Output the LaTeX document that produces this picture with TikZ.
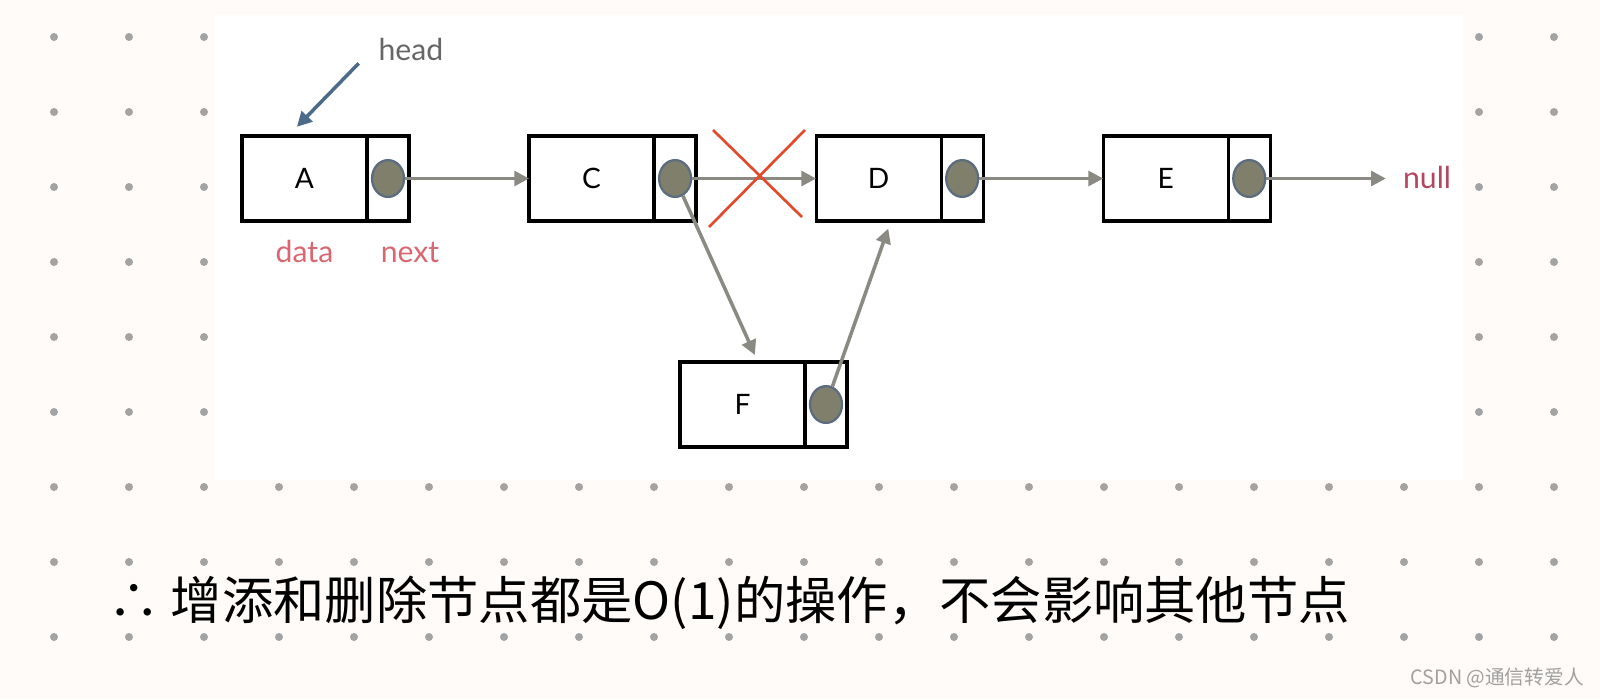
\documentclass[tikz,border=0pt]{standalone}
\usepackage{fontspec}
\setmainfont{Lato}
\newfontfamily\cjkfont{Noto Sans CJK SC}
\usetikzlibrary{arrows.meta,positioning,shapes.geometric}
\definecolor{cpaper}{HTML}{FEFBF8}
\definecolor{cdot}{HTML}{A3A3A3}
\definecolor{clink}{HTML}{8A8A82}
\definecolor{chead}{HTML}{4C6A8A}
\definecolor{ctext}{HTML}{666666}
\definecolor{clabel}{HTML}{DA6670}
\definecolor{cnull}{HTML}{B3475F}
\definecolor{ccross}{HTML}{E24A2C}
\definecolor{cball}{HTML}{7F7F6B}
\definecolor{crim}{HTML}{5C6C80}
\definecolor{cmark}{HTML}{A0A0A0}

\begin{document}
\begin{tikzpicture}[x=0.025cm,y=-0.025cm,
    cell/.style={draw,line width=2.3pt,minimum height=2.125cm,inner sep=0pt,outer sep=0pt,
                 font=\fontsize{20}{22}\selectfont},
    datacell/.style={cell,minimum width=3.125cm},
    nextcell/.style={cell,minimum width=1.05cm},
    ball/.style={ellipse,draw=crim,fill=cball,line width=1.6pt,inner sep=0pt,
                 minimum width=0.8cm,minimum height=0.92cm},
    link/.style={clink,line width=2.5pt,-{Triangle[length=10.5pt,width=10.5pt]}},
    lbl/.style={font=\fontsize{21.5}{24}\selectfont,inner sep=2pt}]
    \useasboundingbox (0,0) rectangle (1600,699);
    \fill[cpaper] (0,0) rectangle (1600,699);
    \foreach \i in {0,...,20}
      \foreach \j in {0,...,8}
        \fill[cdot] (54+75*\i,37+75*\j) circle[radius=4];
    \fill[white] (215,15) rectangle (1463,480);

    % list nodes
    \node[datacell] (A) at (304.5,178.5) {A};
    \node[nextcell,right=0pt of A] (An) {};
    \node[datacell,right=3cm of An] (C) {C};
    \node[nextcell,right=0pt of C] (Cn) {};
    \node[datacell,right=3cm of Cn] (D) {D};
    \node[nextcell,right=0pt of D] (Dn) {};
    \node[datacell,right=3cm of Dn] (E) {E};
    \node[nextcell,right=0pt of E] (En) {};
    \node[datacell] (F) at (742.5,404.5) {F};
    \node[nextcell,right=0pt of F] (Fn) {};
    \foreach \n in {A,C,D,E,F}
      \node[ball] (\n p) at (\n n) {};

    % labels
    \node[lbl,text=ctext,anchor=base] (hd) at (411,60) {head};
    \node[lbl,text=clabel,anchor=base] (dlab) at ([yshift=-1.025cm]A.south) {data};
    \node[lbl,text=clabel,anchor=base] (nlab) at ([xshift=0.55cm,yshift=-1.025cm]An.south) {next};
    \node[lbl,text=cnull,anchor=base] (nul) at (1427,188) {null};

    % links
    \draw[chead,line width=2.5pt,-{Triangle[length=10.5pt,width=10.5pt]}]
      ([xshift=-0.42cm]hd.south west) -- ([xshift=-0.19cm,yshift=0.23cm]A.north);
    \draw[link] (Ap) -- (C);
    \draw[link] (Cp) -- (D);
    \draw[link] (Dp) -- (E);
    \draw[link,shorten >=10pt] (Ep) -- (Ep -| nul.west);
    \draw[link] (Cp) -- ([xshift=0.31cm,yshift=0.175cm]F.north);
    \draw[link] (Fp) -- ([xshift=0.24cm,yshift=-0.19cm]D.south);
    \draw[ccross,line width=1.9pt] (713,130) -- (802,217) (805,130) -- (709,227);

    % note
    \node[font=\cjkfont\fontsize{36.5}{40}\selectfont] (note) at (729,603)
      {∴ 增添和删除节点都是O(1)的操作，不会影响其他节点};
    \node[font=\cjkfont\fontsize{14}{16}\selectfont,text=cmark,anchor=east,inner sep=0pt] (mark)
      at (1584,678) {CSDN @通信转爱人};
\end{tikzpicture}
\end{document}
